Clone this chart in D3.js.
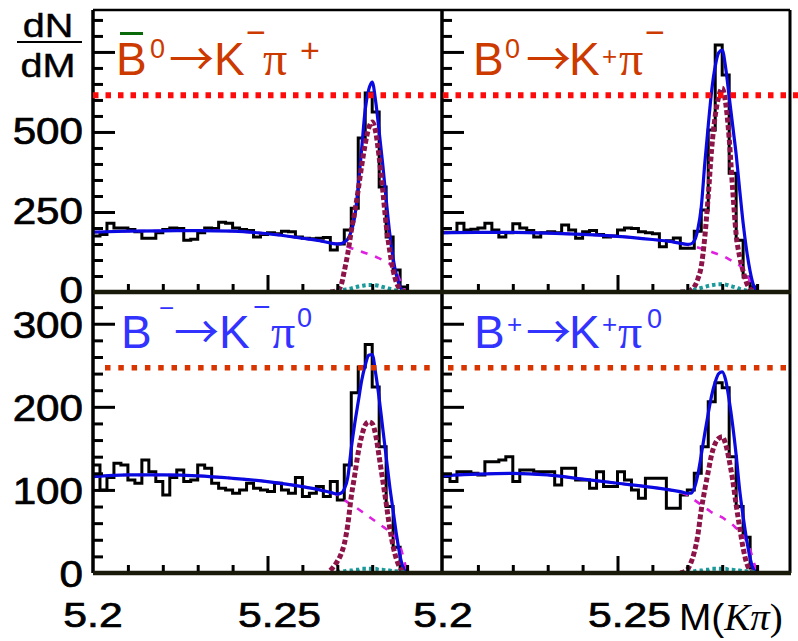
<!DOCTYPE html>
<html>
<head>
<meta charset="utf-8">
<title>B to K pi invariant mass</title>
<script src="https://cdn.jsdelivr.net/npm/d3@7/dist/d3.min.js"></script>
<style>
  html, body { margin: 0; padding: 0; background: #fff; }
  svg { display: block; }
  text { font-family: "Liberation Sans", Arial, sans-serif; }
</style>
</head>
<body>
<svg id="chart" width="798" height="641"></svg>
<script>
// ---- histogram binning (GeV) ----
const binLow = 5.200;
const binWidth = 0.002;

// ---- event counts per bin, 5.200 - 5.290 ----
const countsB0barKmPip = [175, 180, 215, 200, 200, 195, 188, 168, 168, 185, 195, 200, 198, 162, 165,
  185, 200, 198, 218, 215, 200, 195, 192, 172, 180, 185, 182, 190, 188, 172, 168, 166, 168, 170,
  131, 150, 194, 262, 481, 622, 562, 328, 172, 69, 16];
const countsB0KpPim = [187, 187, 215, 194, 196, 200, 215, 194, 172, 185, 213, 200, 192, 172, 185,
  188, 185, 209, 194, 168, 188, 192, 180, 172, 175, 194, 200, 198, 188, 185, 182, 141, 160, 169,
  137, 137, 190, 256, 506, 772, 678, 371, 162, 47, 16];
const countsBmKmPi0 = [130, 100, 115, 132, 130, 112, 108, 136, 122, 110, 94, 115, 124, 110, 112,
  130, 126, 108, 102, 100, 96, 100, 108, 102, 100, 98, 108, 100, 96, 115, 92, 96, 104, 92,
  110, 88, 130, 217, 248, 275, 224, 152, 80, 31, 7];
const countsBpKpPi0 = [116, 110, 122, 122, 120, 118, 134, 134, 136, 140, 110, 124, 124, 122, 122,
  122, 106, 126, 126, 112, 112, 102, 122, 104, 104, 122, 112, 100, 90, 114, 114, 114, 78, 78,
  94, 100, 120, 152, 206, 229, 223, 140, 80, 43, 6];

// ---- fit curves ----
const fitMass = [5.200, 5.210, 5.220, 5.230, 5.240, 5.250, 5.260, 5.265, 5.268, 5.270, 5.271,
  5.272, 5.273, 5.274, 5.275, 5.276, 5.277, 5.278, 5.279, 5.280, 5.281, 5.282, 5.283, 5.284,
  5.285, 5.286, 5.287, 5.288, 5.289, 5.290];
const peakMass = [5.268, 5.270, 5.271, 5.272, 5.273, 5.274, 5.275, 5.276, 5.277, 5.278, 5.279,
  5.280, 5.281, 5.282, 5.283, 5.284, 5.285, 5.286, 5.287, 5.288, 5.289, 5.290];

const totalB0barKmPip = [187, 190, 191, 192, 190, 182, 168, 160, 153, 150, 151, 156, 165, 190, 235,
  330, 450, 570, 632, 656, 595, 500, 400, 290, 185, 105, 50, 16, 3, 0];
const bkgB0barKmPip = [187, 190, 191, 192, 190, 182, 168, 160, 153, 150, 147, 144, 141, 137, 134,
  130, 126, 122, 118, 114, 110, 105, 100, 94, 88, 78, 60, 35, 10, 0];
const sigB0barKmPip = [0, 5, 18, 65, 120, 190, 250, 320, 395, 462, 512, 531, 500, 420, 320, 210,
  130, 68, 28, 8, 2, 0];
const feedB0barKmPip = [0, 3, 5, 7, 9, 11, 14, 17, 19, 21, 22, 22, 21, 19, 16, 13, 10, 7, 4, 2, 1, 0];

const totalB0KpPim = [185, 186, 186, 184, 180, 174, 164, 158, 152, 149, 150, 160, 195, 265, 400,
  520, 630, 705, 748, 756, 700, 610, 520, 430, 320, 215, 130, 65, 20, 0];
const bkgB0KpPim = [185, 186, 186, 184, 180, 174, 164, 158, 152, 148, 145, 142, 139, 136, 133,
  129, 125, 121, 117, 113, 108, 102, 96, 90, 83, 72, 55, 35, 12, 0];
const sigB0KpPim = [0, 2, 6, 16, 40, 80, 170, 300, 450, 550, 610, 637, 590, 480, 320, 180, 110,
  65, 28, 10, 3, 0];
const feedB0KpPim = [0, 3, 5, 7, 10, 13, 16, 19, 21, 23, 24, 24, 23, 20, 17, 14, 10, 7, 4, 2, 1, 0];

const totalBmKmPi0 = [116, 118, 118, 117, 114, 110, 104, 100, 97, 95, 96, 101, 115, 150, 180,
  206, 232, 250, 262, 263, 240, 210, 175, 140, 105, 75, 45, 20, 5, 0];
const bkgBmKmPi0 = [116, 118, 118, 117, 114, 110, 104, 100, 97, 94, 91, 88, 85, 82, 80, 77, 74,
  71, 68, 65, 62, 59, 56, 53, 50, 46, 41, 32, 18, 0];
const sigBmKmPi0 = [3, 14, 22, 35, 58, 92, 118, 145, 165, 178, 182, 180, 166, 140, 112, 84, 55,
  32, 16, 6, 1, 0];
const feedBmKmPi0 = [0, 1, 2, 2, 3, 3, 4, 4, 5, 5, 5, 5, 5, 4, 4, 3, 3, 2, 2, 1, 1, 0];

const totalBpKpPi0 = [117, 119, 120, 118, 113, 108, 103, 100, 98, 96, 96, 102, 118, 142, 168, 192,
  214, 230, 240, 242, 232, 208, 178, 142, 100, 68, 40, 18, 4, 0];
const bkgBpKpPi0 = [117, 119, 120, 118, 113, 108, 103, 100, 97, 94, 91, 88, 85, 82, 79, 76, 73,
  71, 69, 67, 64, 61, 58, 54, 50, 45, 38, 28, 14, 0];
const sigBpKpPi0 = [0, 4, 12, 25, 45, 76, 100, 122, 143, 156, 162, 164, 155, 136, 112, 82, 55, 30,
  12, 3, 0, 0];
const feedBpKpPi0 = [0, 1, 2, 2, 3, 3, 4, 4, 5, 5, 5, 5, 5, 4, 4, 3, 3, 2, 2, 1, 1, 0];

// ---- horizontal reference levels ----
const refLevelTop = 615;
const refLevelBottom = 247;

// ---- axes ----
const massDomain = [5.2, 5.3];
const yTopMax = 881;
const yBottomMax = 337;
const xMinorTicks = [5.21, 5.22, 5.23, 5.24, 5.26, 5.27, 5.28, 5.29];
const xMajorTicks = [5.25];
const xTickLabels = [[5.2, "5.2"], [5.25, "5.25"]];
const yTopMinorTicks = [50, 100, 150, 200, 300, 350, 400, 450, 550, 600, 650, 700, 800, 850];
const yTopMajorTicks = [250, 500, 750];
const yTopLabels = [0, 250, 500];
const yBottomMinorTicks = [20, 40, 60, 80, 120, 140, 160, 180, 220, 240, 260, 280, 320];
const yBottomMajorTicks = [100, 200, 300];
const yBottomLabels = [0, 100, 200, 300];

// ---- layout ----
const svg = d3.select("#chart");
const L = 93, MID = 442, R = 790, TOP = 10, MIDY = 292, BOT = 573;

const xLeft = d3.scaleLinear().domain(massDomain).range([93, 442]);
const xRight = d3.scaleLinear().domain(massDomain).range([443, 792]);
const yTop = d3.scaleLinear().domain([0, yTopMax]).range([MIDY, TOP]);
const yBot = d3.scaleLinear().domain([0, yBottomMax]).range([BOT, MIDY + 1]);

const COL_HIST = "#000";
const COL_FIT = "#0a0ae0";
const COL_SIG = "#8c1448";
const COL_BKG = "#e020e0";
const COL_FEED = "#1a9a9a";

const defs = svg.append("defs");
[["clipTL", 93, TOP, 349, MIDY - TOP], ["clipTR", 442, TOP, 348, MIDY - TOP],
 ["clipBL", 93, MIDY, 349, BOT - MIDY], ["clipBR", 442, MIDY, 348, BOT - MIDY]].forEach(c => {
  defs.append("clipPath").attr("id", c[0]).append("rect")
    .attr("x", c[1]).attr("y", c[2]).attr("width", c[3]).attr("height", c[4]);
});

const panels = [
  { clip: "clipTL", x: xLeft, y: yTop, counts: countsB0barKmPip, total: totalB0barKmPip,
    bkg: bkgB0barKmPip, sig: sigB0barKmPip, feed: feedB0barKmPip },
  { clip: "clipTR", x: xRight, y: yTop, counts: countsB0KpPim, total: totalB0KpPim,
    bkg: bkgB0KpPim, sig: sigB0KpPim, feed: feedB0KpPim },
  { clip: "clipBL", x: xLeft, y: yBot, counts: countsBmKmPi0, total: totalBmKmPi0,
    bkg: bkgBmKmPi0, sig: sigBmKmPi0, feed: feedBmKmPi0 },
  { clip: "clipBR", x: xRight, y: yBot, counts: countsBpKpPi0, total: totalBpKpPi0,
    bkg: bkgBpKpPi0, sig: sigBpKpPi0, feed: feedBpKpPi0 }
];

panels.forEach(p => {
  const g = svg.append("g").attr("clip-path", `url(#${p.clip})`);

  // histogram as a step outline
  const steps = p.counts.map((c, i) => ({ m: binLow + i * binWidth, v: c }));
  steps.push({ m: binLow + p.counts.length * binWidth, v: 0 });
  const stepLine = d3.line().x(d => p.x(d.m)).y(d => p.y(d.v)).curve(d3.curveStepAfter);
  g.append("path").attr("d", stepLine(steps))
    .attr("fill", "none").attr("stroke", COL_HIST).attr("stroke-width", 3)
    .attr("stroke-linejoin", "miter");

  const smooth = d3.line().x(d => p.x(d[0])).y(d => p.y(d[1])).curve(d3.curveMonotoneX);

  // background component
  g.append("path").attr("d", smooth(d3.zip(fitMass, p.bkg)))
    .attr("fill", "none").attr("stroke", COL_BKG).attr("stroke-width", 2.6)
    .attr("stroke-dasharray", "7,8");

  // total fit
  g.append("path").attr("d", smooth(d3.zip(fitMass, p.total)))
    .attr("fill", "none").attr("stroke", COL_FIT).attr("stroke-width", 3.2);

  // signal component
  g.append("path").attr("d", smooth(d3.zip(peakMass, p.sig)))
    .attr("fill", "none").attr("stroke", COL_SIG).attr("stroke-width", 5)
    .attr("stroke-dasharray", "5,2.5");

  // cross-feed component
  g.append("path").attr("d", smooth(d3.zip(peakMass, p.feed)))
    .attr("fill", "none").attr("stroke", COL_FEED).attr("stroke-width", 4)
    .attr("stroke-dasharray", "3.5,3");
});

// ---- frame lines ----
const frame = svg.append("g").attr("stroke", "#000").attr("fill", "none");
frame.append("line").attr("x1", L).attr("x2", R).attr("y1", TOP).attr("y2", TOP).attr("stroke-width", 2.5);
frame.append("line").attr("x1", R).attr("x2", R).attr("y1", TOP).attr("y2", BOT).attr("stroke-width", 3);
frame.append("line").attr("x1", L).attr("x2", L).attr("y1", TOP).attr("y2", BOT).attr("stroke-width", 3.5);
frame.append("line").attr("x1", MID).attr("x2", MID).attr("y1", TOP).attr("y2", BOT).attr("stroke-width", 3.5);
frame.append("line").attr("x1", L).attr("x2", R + 1).attr("y1", MIDY).attr("y2", MIDY)
  .attr("stroke", "#1a1a0a").attr("stroke-width", 4.5);
frame.append("line").attr("x1", L).attr("x2", R + 1).attr("y1", BOT).attr("y2", BOT)
  .attr("stroke", "#1a1a0a").attr("stroke-width", 4.5);

// ---- ticks via d3 axes ----
function styleTicks(sel, w) {
  sel.select(".domain").remove();
  sel.selectAll(".tick line").attr("stroke", "#000").attr("stroke-width", w);
  sel.selectAll(".tick text").remove();
}
[[L, yTop, yTopMinorTicks, yTopMajorTicks], [MID, yTop, yTopMinorTicks, yTopMajorTicks],
 [L, yBot, yBottomMinorTicks, yBottomMajorTicks], [MID, yBot, yBottomMinorTicks, yBottomMajorTicks]]
  .forEach(([x0, ys, minor, major]) => {
    svg.append("g").attr("transform", `translate(${x0},0)`)
      .call(d3.axisRight(ys).tickValues(minor).tickSize(10)).call(s => styleTicks(s, 3));
    svg.append("g").attr("transform", `translate(${x0},0)`)
      .call(d3.axisRight(ys).tickValues(major).tickSize(22)).call(s => styleTicks(s, 3));
  });
[[xLeft, MIDY], [xRight, MIDY], [xLeft, BOT], [xRight, BOT]].forEach(([xs, y0]) => {
  svg.append("g").attr("transform", `translate(0,${y0 - 2})`)
    .call(d3.axisTop(xs).tickValues(xMinorTicks).tickSize(6)).call(s => styleTicks(s, 3));
  svg.append("g").attr("transform", `translate(0,${y0 - 2})`)
    .call(d3.axisTop(xs).tickValues(xMajorTicks).tickSize(15)).call(s => styleTicks(s, 3));
});

// ---- reference levels ----
svg.append("line").attr("x1", L).attr("x2", 798)
  .attr("y1", yTop(refLevelTop)).attr("y2", yTop(refLevelTop))
  .attr("stroke", "#ff0a0a").attr("stroke-width", 6).attr("stroke-dasharray", "5.5,7");
[[xLeft, 105, 436], [xRight, 448, 790]].forEach(([xs, a, b]) => {
  svg.append("line").attr("x1", a).attr("x2", b)
    .attr("y1", yBot(refLevelBottom)).attr("y2", yBot(refLevelBottom))
    .attr("stroke", "#d83400").attr("stroke-width", 5.5).attr("stroke-dasharray", "5.5,7.8");
});

// ---- tick labels ----
function stretched(str, x, y, size, sx, anchor) {
  return svg.append("text")
    .attr("transform", `translate(${x},${y}) scale(${sx},1)`)
    .attr("text-anchor", anchor).attr("font-size", size).attr("fill", "#000")
    .attr("stroke", "#000").attr("stroke-width", 0.7).text(str);
}
yTopLabels.forEach(v => stretched(String(v), 83, yTop(v) + (v === 0 ? 11 : 12.5), 37, 1.14, "end"));
yBottomLabels.forEach(v => stretched(String(v), 83, yBot(v) + 14, 37, 1.14, "end"));
[xLeft, xRight].forEach(xs => {
  xTickLabels.forEach(([m, s]) => {
    const shift = s.length > 3 ? 12 : 0;
    stretched(s, xs(m) + shift, 627, 35, 1.22, "middle");
  });
});

// axis titles
const mt = svg.append("text").attr("transform", "translate(679,630) scale(1.05,1)")
  .attr("font-size", 37).attr("fill", "#000");
mt.append("tspan").text("M(");
mt.append("tspan").attr("font-family", "'Liberation Serif', serif").attr("font-style", "italic").text("Kπ");
mt.append("tspan").attr("font-family", "'Liberation Serif', serif").text(")");

stretched("dN", 48, 37, 33, 1.2, "middle").attr("stroke-width", 0.4);
stretched("dM", 48, 77, 33, 1.2, "middle").attr("stroke-width", 0.4);
svg.append("line").attr("x1", 17).attr("x2", 82).attr("y1", 42).attr("y2", 42)
  .attr("stroke", "#000").attr("stroke-width", 2.2);

// ---- decay channel labels ----
const ARROW_FONT = "'Noto Sans CJK SC', 'DejaVu Sans', sans-serif";
function channel(parts, color) {
  const t = svg.append("text").attr("fill", color);
  parts.forEach(([s, x, y, size, font]) => {
    const sp = t.append("tspan").attr("x", x).attr("y", y).attr("font-size", size).text(s);
    if (font === "serif") sp.attr("font-family", "'Liberation Serif', serif");
    if (font === "arrow") sp.attr("font-family", ARROW_FONT);
  });
  return t;
}
const RED = "#cc3a00", BLUE = "#3333ff";
channel([["B", 116, 75, 46], ["0", 150, 58, 27], ["→", 169, 76, 45, "arrow"], ["K", 214, 75, 46],
  ["−", 246, 44, 34], ["π", 263, 75, 48, "serif"], ["+", 300, 62, 34]], RED);
svg.append("line").attr("x1", 120).attr("x2", 143).attr("y1", 33.5).attr("y2", 33.5)
  .attr("stroke", "#0a6a0a").attr("stroke-width", 3);
channel([["B", 473, 75, 46], ["0", 505, 58, 27], ["→", 526, 76, 45, "arrow"], ["K", 569, 75, 46],
  ["+", 602, 65, 26], ["π", 619, 75, 48, "serif"], ["−", 645, 44, 34]], RED);
channel([["B", 121, 348, 46], ["−", 159, 317, 26], ["→", 174, 349, 45, "arrow"], ["K", 219, 348, 46],
  ["−", 253, 317, 30], ["π", 271, 348, 48, "serif"], ["0", 297, 327, 27]], BLUE);
channel([["B", 474, 348, 46], ["+", 507, 333, 26], ["→", 526, 349, 45, "arrow"], ["K", 569, 348, 46],
  ["+", 602, 333, 26], ["π", 618, 348, 48, "serif"], ["0", 647, 328, 27]], BLUE);
</script>
</body>
</html>
